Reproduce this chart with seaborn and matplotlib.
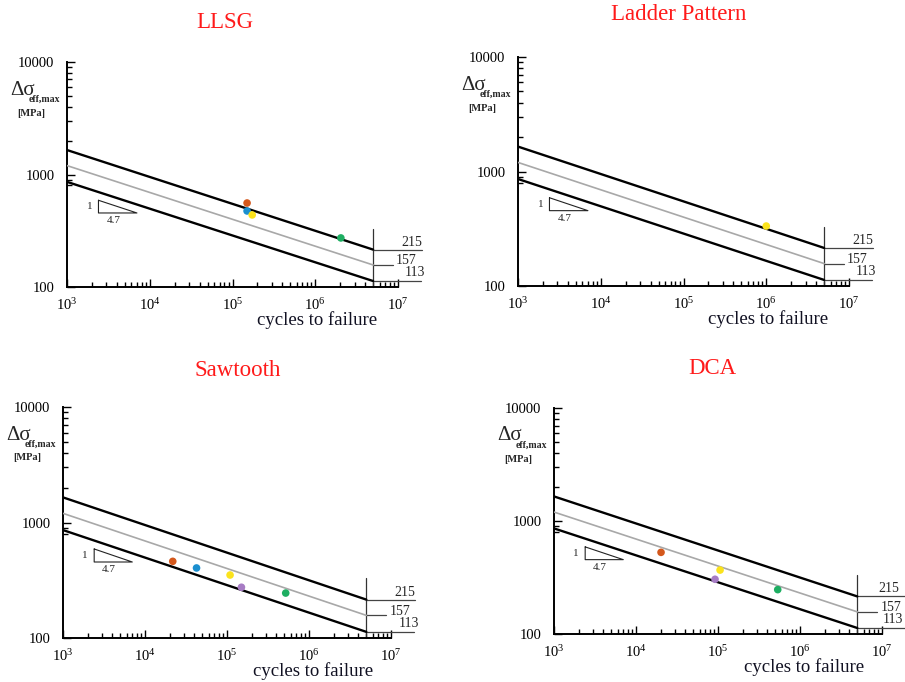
import numpy as np
import pandas as pd
import matplotlib
matplotlib.use("Agg")
import matplotlib.pyplot as plt
import seaborn as sns
from matplotlib.ticker import FixedLocator, FixedFormatter, LogLocator, NullFormatter

# ---------------- data ----------------
PANELS = ["LLSG", "Ladder Pattern", "Sawtooth", "DCA"]

N_START = 1e3
N_END = 5e6
BAND_NAMES = ["upper", "mean", "lower"]
BAND_START = [1650, 1200, 860]
BAND_END = [215, 157, 113]
BAND_LABELS = ["215", "157", "113"]

LLSG_N = [1.5e5, 1.5e5, 1.73e5, 2.04e6]
LLSG_S = [558, 474, 437, 273]
LLSG_C = ["orange", "blue", "yellow", "green"]

LADDER_N = [1.0e6]
LADDER_S = [334]
LADDER_C = ["yellow"]

SAW_N = [2.18e4, 4.25e4, 1.09e5, 1.5e5, 5.2e5]
SAW_S = [461, 404, 351, 275, 245]
SAW_C = ["orange", "blue", "yellow", "purple", "green"]

DCA_N = [2.02e4, 9.2e4, 1.06e5, 5.35e5]
DCA_S = [528, 305, 368, 247]
DCA_C = ["orange", "purple", "yellow", "green"]

TRI_N = [2400, 7000]
TRI_S = [590, 455]
SLOPE_LABELS = ["1", "4.7"]

X_TICKS = [1e3, 1e4, 1e5, 1e6, 1e7]
X_TICK_LABELS = [r"$\mathregular{10^{3}}$", r"$\mathregular{10^{4}}$",
                 r"$\mathregular{10^{5}}$", r"$\mathregular{10^{6}}$",
                 r"$\mathregular{10^{7}}$"]
Y_TICKS = [100, 1000, 10000]
Y_TICK_LABELS = ["100", "1000", "10000"]
Y_MINOR = [800, 900, 2000, 3000, 4000, 5000, 6000, 7000, 8000, 9000]

X_LABEL = "cycles to failure"

PALETTE = {"orange": "#d4581c", "blue": "#1b8fcf", "yellow": "#fbe31c",
           "purple": "#a77cc4", "green": "#1eae62"}
BAND_COLORS = {"upper": "black", "mean": "#a8a8a8", "lower": "black"}
BAND_LW = {"upper": 1.7, "mean": 1.2, "lower": 1.7}

POINTS = {
    "LLSG": (LLSG_N, LLSG_S, LLSG_C),
    "Ladder Pattern": (LADDER_N, LADDER_S, LADDER_C),
    "Sawtooth": (SAW_N, SAW_S, SAW_C),
    "DCA": (DCA_N, DCA_S, DCA_C),
}

# ---------------- layout (pixels) ----------------
W, H = 905, 682
RECTS = {  # left, top, width, height
    "LLSG": (67, 62, 331, 225),
    "Ladder Pattern": (518, 57, 331, 229),
    "Sawtooth": (63, 407, 328, 231),
    "DCA": (554, 408, 328, 226),
}
TITLE_POS = {
    "LLSG": (225, 22),
    "Ladder Pattern": (679, 15),
    "Sawtooth": (238, 370),
    "DCA": (712, 369),
}
LABEL_DX = {"LLSG": 0, "Ladder Pattern": 0, "Sawtooth": 0, "DCA": -7}

sns.set_theme(style="white")
plt.rcParams["font.family"] = ["Liberation Serif", "DejaVu Serif"]
plt.rcParams["mathtext.fontset"] = "custom"
plt.rcParams["mathtext.rm"] = "Liberation Serif"
plt.rcParams["mathtext.it"] = "Liberation Serif:italic"
plt.rcParams["mathtext.bf"] = "Liberation Serif:bold"

fig = plt.figure(figsize=(W / 100, H / 100), dpi=100)
fig.patch.set_facecolor("white")

band_df = pd.DataFrame({
    "N": [N_START] * 3 + [N_END] * 3,
    "S": BAND_START + BAND_END,
    "band": BAND_NAMES + BAND_NAMES,
})

for name in PANELS:
    L, T, Wd, Ht = RECTS[name]
    ax = fig.add_axes([L / W, 1 - (T + Ht) / H, Wd / W, Ht / H])
    ax.set_facecolor("white")

    for b in BAND_NAMES:
        sns.lineplot(data=band_df[band_df["band"] == b], x="N", y="S",
                     color=BAND_COLORS[b], lw=BAND_LW[b], ax=ax,
                     legend=False, sort=False, zorder=3)

    n, s, c = POINTS[name]
    pts = pd.DataFrame({"N": n, "S": s, "c": c})
    sns.scatterplot(data=pts, x="N", y="S", hue="c", palette=PALETTE,
                    s=30, edgecolor="none", legend=False, ax=ax, zorder=5)

    ax.set_xscale("log")
    ax.set_yscale("log")
    ax.set_xlim(1e3, 1e7)
    ax.set_ylim(100, 10000)

    # endurance marks on the right
    ax.plot([N_END, N_END], [100, 330], color="#333333", lw=0.9, clip_on=False)
    ext = [3.9, 1.75, 3.8]
    for val, e in zip(BAND_END, ext):
        ax.plot([N_END, N_END * e], [val, val], color="#444444", lw=0.9,
                clip_on=False)
    dx = LABEL_DX[name]
    ax.annotate(BAND_LABELS[0], (N_END, BAND_END[0]), xytext=(28 + dx, 1),
                textcoords="offset pixels", ha="left", va="bottom",
                fontsize=10, annotation_clip=False)
    ax.annotate(BAND_LABELS[1], (N_END, BAND_END[1]), xytext=(23, 4),
                textcoords="offset pixels", ha="left", va="center",
                fontsize=10, annotation_clip=False)
    ax.annotate(BAND_LABELS[2], (N_END, BAND_END[2]), xytext=(32 + dx, 2),
                textcoords="offset pixels", ha="left", va="bottom",
                fontsize=10, annotation_clip=False)

    # slope triangle
    ax.plot([TRI_N[0], TRI_N[0], TRI_N[1], TRI_N[0]],
            [TRI_S[0], TRI_S[1], TRI_S[1], TRI_S[0]],
            color="#222222", lw=0.8, zorder=3)
    ax.annotate(SLOPE_LABELS[0], (TRI_N[0], np.sqrt(TRI_S[0] * TRI_S[1])),
                xytext=(-9, 0), textcoords="offset pixels", ha="center",
                va="center", fontsize=8)
    ax.annotate(SLOPE_LABELS[1], (np.sqrt(TRI_N[0] * TRI_N[1]), TRI_S[1]),
                xytext=(-4, -8), textcoords="offset pixels", ha="center",
                va="center", fontsize=8)

    # axes styling
    for sp in ["top", "right"]:
        ax.spines[sp].set_visible(False)
    for sp in ["left", "bottom"]:
        ax.spines[sp].set_color("black")
        ax.spines[sp].set_linewidth(1.4)
    ax.xaxis.set_major_locator(FixedLocator(X_TICKS))
    ax.xaxis.set_major_formatter(FixedFormatter(X_TICK_LABELS))
    ax.xaxis.set_minor_locator(LogLocator(base=10, subs=np.arange(2, 10)))
    ax.xaxis.set_minor_formatter(NullFormatter())
    ax.yaxis.set_major_locator(FixedLocator(Y_TICKS))
    ax.yaxis.set_major_formatter(FixedFormatter(Y_TICK_LABELS))
    ax.yaxis.set_minor_locator(FixedLocator(Y_MINOR))
    ax.yaxis.set_minor_formatter(NullFormatter())
    ax.tick_params(which="both", direction="in", color="black", width=1,
                   bottom=True, left=True, top=False, right=False,
                   labelsize=10.5, labelcolor="black")
    ax.tick_params(which="major", length=6)
    ax.tick_params(which="minor", length=3.5)
    ax.tick_params(axis="x", which="major", pad=7)
    ax.tick_params(axis="y", which="major", pad=9)
    ax.set_xlabel("")
    ax.set_ylabel("")
    ax.grid(False)

    # y label
    ax.annotate("Δσ", (0, 1), xycoords="axes fraction", xytext=(-57, -28),
                textcoords="offset pixels", ha="left", va="center",
                fontsize=15, annotation_clip=False)
    ax.annotate("eff,max", (0, 1), xycoords="axes fraction", xytext=(-38, -37),
                textcoords="offset pixels", ha="left", va="center",
                fontsize=7, fontweight="bold", annotation_clip=False)
    ax.annotate("[MPa]", (0, 1), xycoords="axes fraction", xytext=(-36, -51),
                textcoords="offset pixels", ha="center", va="center",
                fontsize=7.5, fontweight="bold", annotation_clip=False)

    # x label
    ax.annotate(X_LABEL, (0, 0), xycoords="axes fraction", xytext=(250, -33),
                textcoords="offset pixels", ha="center", va="center",
                fontsize=13.5, color="#111122", annotation_clip=False)

    tx, ty = TITLE_POS[name]
    fig.text(tx / W, 1 - ty / H, name, ha="center", va="center",
             fontsize=16.5, color="#ff1a1a")

fig.savefig("out.png", dpi=100, facecolor="white")
